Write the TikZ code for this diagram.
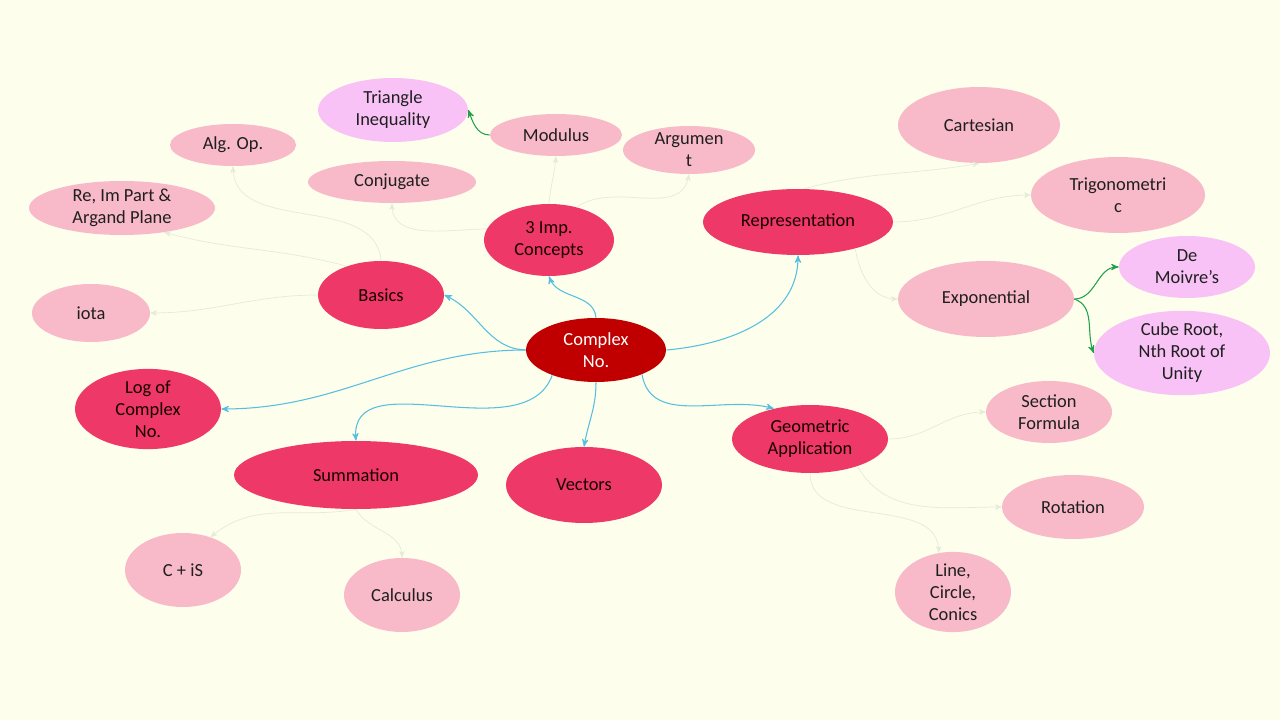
\documentclass[tikz,border=0pt]{standalone}
\usepackage{fontspec}
\setmainfont{Carlito}
\usetikzlibrary{shapes.geometric}
\usetikzlibrary{arrows}
\definecolor{cream}{HTML}{FEFEEC}
\definecolor{darkred}{HTML}{C00000}
\definecolor{rose}{HTML}{EE3868}
\definecolor{pinkish}{HTML}{F8B9C8}
\definecolor{lilac}{HTML}{F8C2F6}
\definecolor{skyline}{HTML}{55BFE0}
\definecolor{faintline}{HTML}{E4ECD8}
\definecolor{greenline}{HTML}{1FA04C}
\tikzset{x=0.02cm, y=0.02cm,
every node/.style={ % Sets the look of every bubble
ellipse, inner sep=0pt,
align=center,
text=black!88,
font=\fontsize{10.5}{12.5}\selectfont},
hub/.style={fill=darkred, text=white},
topic/.style={fill=rose, text=black!90!red},
leaf/.style={fill=pinkish},
extra/.style={fill=lilac},
>=stealth',
every edge/.style={ % Sets the properties for each connector
draw,
->},
bluelink/.style={skyline, semithick},
faintlink/.style={faintline, thin},
greenlink/.style={greenline, semithick}}
\begin{document}
\begin{tikzpicture}
	\fill[cream] (0,0) rectangle (1280,720);
	\useasboundingbox (0,0) rectangle (1280,720);
	% centre and main topics
	\node[hub, minimum width=2.8cm, minimum height=1.28cm] (cx) at (596,370) {Complex\\No.};
	\node[topic, minimum width=2.6cm, minimum height=1.44cm] (imp) at (549,480) {3 Imp.\\Concepts};
	\node[topic, minimum width=2.52cm, minimum height=1.36cm] (basics) at (381,425) {Basics};
	\node[topic, minimum width=3.8cm, minimum height=1.32cm] (repr) at (798,498) {Representation};
	\node[topic, minimum width=2.92cm, minimum height=1.52cm] (logc) at (148,311) {Log of\\Complex\\No.};
	\node[topic, minimum width=4.88cm, minimum height=1.36cm] (summ) at (356,245) {Summation};
	\node[topic, minimum width=3.12cm, minimum height=1.52cm] (vect) at (584,235) {Vectors};
	\node[topic, minimum width=3.12cm, minimum height=1.36cm] (geom) at (810,281) {Geometric\\Application};
	% sub topics
	\node[extra, minimum width=3.0cm, minimum height=1.28cm] (tri) at (393,610) {Triangle\\Inequality};
	\node[leaf, minimum width=2.52cm, minimum height=0.84cm] (alg) at (233,575) {Alg. Op.};
	\node[leaf, minimum width=2.64cm, minimum height=0.84cm] (modu) at (556,585) {Modulus};
	\node[leaf, minimum width=2.64cm, minimum height=0.84cm] (argu) at (689,570) {Argumen\\t};
	\node[leaf, minimum width=3.36cm, minimum height=0.84cm] (conj) at (392,538) {Conjugate};
	\node[leaf, minimum width=3.72cm, minimum height=1.08cm] (reim) at (122,512) {Re, Im Part \&\\Argand Plane};
	\node[leaf, minimum width=2.36cm, minimum height=1.16cm] (iota) at (91,407) {iota};
	\node[leaf, minimum width=3.24cm, minimum height=1.52cm] (cart) at (979,595) {Cartesian};
	\node[leaf, minimum width=3.48cm, minimum height=1.52cm] (trig) at (1118,525) {Trigonometri\\c};
	\node[leaf, minimum width=3.52cm, minimum height=1.52cm] (expo) at (986,421) {Exponential};
	\node[extra, minimum width=2.72cm, minimum height=1.24cm] (demo) at (1187,453) {De\\Moivre’s};
	\node[extra, minimum width=3.52cm, minimum height=1.52cm] (cube) at (1182,367) {Cube Root,\\Nth Root of\\Unity};
	\node[leaf, minimum width=2.52cm, minimum height=1.24cm] (sect) at (1049,308) {Section\\Formula};
	\node[leaf, minimum width=2.84cm, minimum height=1.28cm] (rota) at (1073,213) {Rotation};
	\node[leaf, minimum width=2.32cm, minimum height=1.36cm] (line) at (953,128) {Line,\\Circle,\\Conics};
	\node[leaf, minimum width=2.32cm, minimum height=1.48cm] (cis) at (183,150) {C + iS};
	\node[leaf, minimum width=2.32cm, minimum height=1.48cm] (calc) at (402,125) {Calculus};
	% from the centre
	\draw (cx.west) edge[bluelink, out=178, in=-25] (basics.east);
	\draw (cx.north) edge[bluelink, out=95, in=-70] (imp.south);
	\draw (cx.east) edge[bluelink, out=5, in=-90] (repr.south);
	\draw (cx.west) edge[bluelink, out=180, in=0] (logc.east);
	\draw (cx.210) edge[bluelink, out=-110, in=95] (summ.north);
	\draw (cx.south) edge[bluelink, out=-90, in=80] (vect.north);
	\draw (cx.-28) edge[bluelink, out=-80, in=165] (geom.140);
	% from the topics
	\draw (basics.north) edge[faintlink, out=95, in=-90] (alg.south);
	\draw (basics.140) edge[faintlink, out=165, in=-15] (reim.-30);
	\draw (basics.west) edge[faintlink, out=180, in=0] (iota.east);
	\draw (imp.170) edge[faintlink, out=180, in=-90] (conj.south);
	\draw (imp.north) edge[faintlink, out=85, in=-95] (modu.south);
	\draw (imp.50) edge[faintlink, out=35, in=-100] (argu.south);
	\draw (repr.80) edge[faintlink, out=15, in=190] (cart.south);
	\draw (repr.east) edge[faintlink, out=0, in=180] (trig.west);
	\draw (repr.-25) edge[faintlink, out=-80, in=180] (expo.west);
	\draw (geom.east) edge[faintlink, out=0, in=180] (sect.west);
	\draw (geom.-30) edge[faintlink, out=-60, in=180] (rota.west);
	\draw (geom.south) edge[faintlink, out=-90, in=90] (line.110);
	\draw (summ.south) edge[faintlink, out=-170, in=40] (cis.50);
	\draw (summ.south) edge[faintlink, out=-60, in=90] (calc.north);
	% extras
	\draw (modu.west) edge[greenlink, out=180, in=-70] (tri.east);
	\draw (expo.east) edge[greenlink, out=0, in=180] (demo.west);
	\draw (expo.east) edge[greenlink, out=-20, in=110] (cube.west);
\end{tikzpicture}
\end{document}
